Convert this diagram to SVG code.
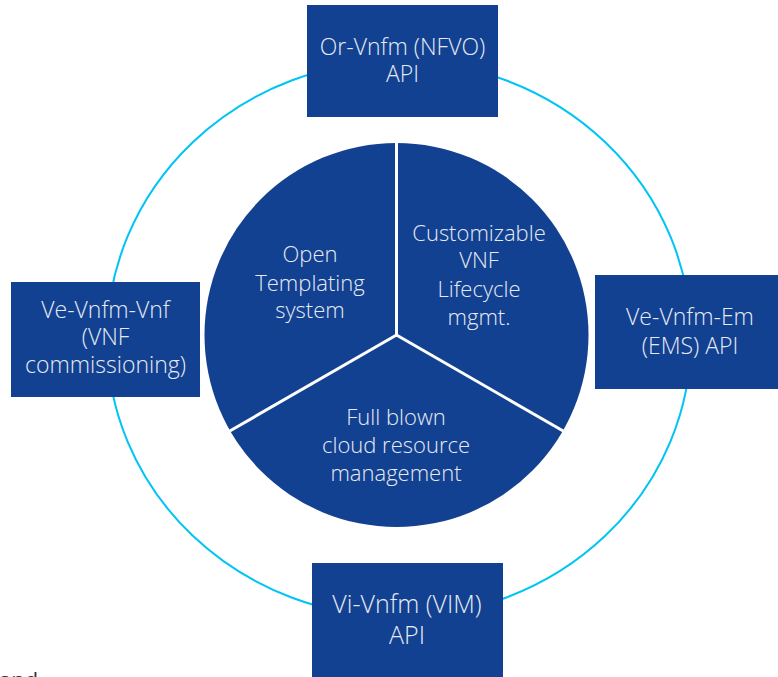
<svg xmlns="http://www.w3.org/2000/svg" width="778" height="677" viewBox="0 0 778 677">
  <style>
    .box { fill: #134191; }
    .label { font-family: "Open Sans", "Liberation Sans", sans-serif; font-weight: 300; fill: #e6ebf3; text-anchor: middle; }
    .ring { fill: none; stroke: #00c4f4; stroke-width: 2; }
    .divider { stroke: #ffffff; stroke-width: 3; }
  </style>
  <rect width="778" height="677" fill="#ffffff"/>

  <!-- interface ring -->
  <g id="connectors">
    <ellipse class="ring" cx="399" cy="339" rx="292" ry="278"/>
  </g>

  <!-- central pie with three capabilities -->
  <g id="pie">
    <circle cx="396.5" cy="335" r="192" fill="#134191"/>
    <line class="divider" x1="396.5" y1="335" x2="396.5" y2="142"/>
    <line class="divider" x1="396.5" y1="335" x2="229.8" y2="431"/>
    <line class="divider" x1="396.5" y1="335" x2="563.2" y2="431"/>
  </g>

  <g id="open-templating">
    <text class="label" font-size="22"><tspan x="310" y="262">Open</tspan><tspan x="310" y="291">Templating</tspan><tspan x="310" y="318">system</tspan></text>
  </g>
  <g id="lifecycle-mgmt">
    <text class="label" font-size="22"><tspan x="479" y="241">Customizable</tspan><tspan x="479" y="268">VNF</tspan><tspan x="479" y="297">Lifecycle</tspan><tspan x="479" y="325">mgmt.</tspan></text>
  </g>
  <g id="cloud-resource-mgmt">
    <text class="label" font-size="22"><tspan x="396" y="425">Full blown</tspan><tspan x="396" y="453">cloud resource</tspan><tspan x="396" y="481">management</tspan></text>
  </g>

  <!-- API boxes on the ring -->
  <g id="or-vnfm">
    <rect class="box" x="307" y="5" width="191" height="112"/>
    <text class="label" font-size="23"><tspan x="402.5" y="55">Or-Vnfm (NFVO)</tspan><tspan x="402.5" y="82">API</tspan></text>
  </g>
  <g id="ve-vnfm-vnf">
    <rect class="box" x="11" y="282" width="189" height="115"/>
    <text class="label" font-size="23"><tspan x="105.5" y="318">Ve-Vnfm-Vnf</tspan><tspan x="105.5" y="345">(VNF</tspan><tspan x="105.5" y="373">commissioning)</tspan></text>
  </g>
  <g id="ve-vnfm-em">
    <rect class="box" x="595" y="275" width="190" height="114"/>
    <text class="label" font-size="23"><tspan x="690" y="325">Ve-Vnfm-Em</tspan><tspan x="690" y="354">(EMS) API</tspan></text>
  </g>
  <g id="vi-vnfm">
    <rect class="box" x="312" y="563" width="191" height="120"/>
    <text class="label" font-size="25"><tspan x="407" y="613">Vi-Vnfm (VIM)</tspan><tspan x="407" y="644">API</tspan></text>
  </g>

  <text x="-1" y="688" font-family="Open Sans, Liberation Sans, sans-serif" font-size="22" fill="#333333">and</text>
</svg>
